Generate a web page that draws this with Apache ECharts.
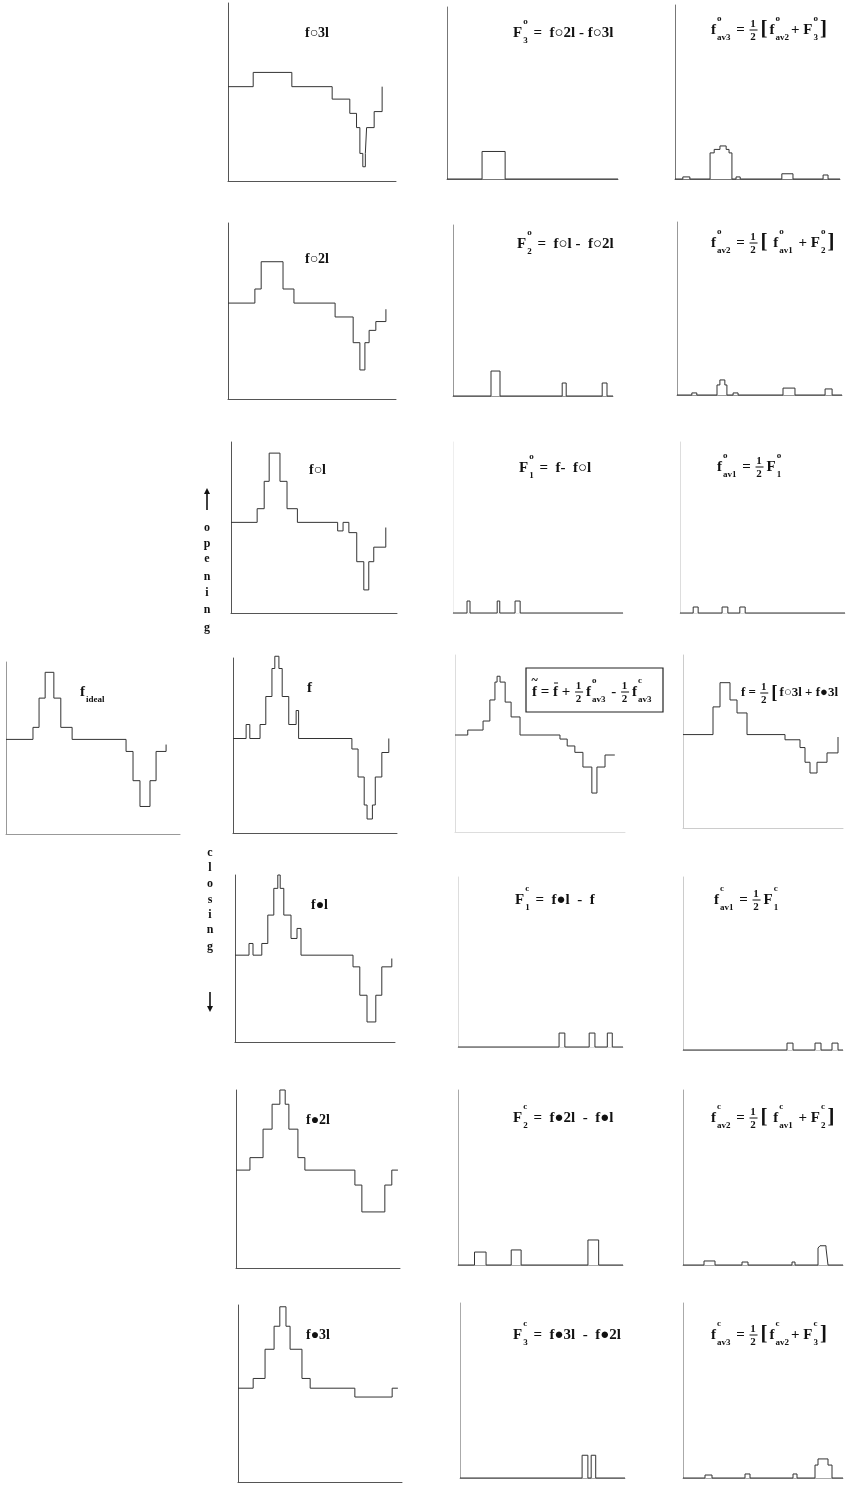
<!DOCTYPE html>
<html>
<head>
<meta charset="utf-8">
<script src="https://cdn.jsdelivr.net/npm/echarts@6.0.0/dist/echarts.min.js"></script>
<style>
html, body { margin: 0; padding: 0; background: #fff; }
#chart { width: 848px; height: 1486px; }
</style>
</head>
<body>
<div id="chart"></div>
<script>
// step signals: edges along x (0..40), level of each step (last one = end tip)
const idealEdges = [0, 6.2, 7.6, 9, 11, 12.6, 15.2, 27.6, 29.2, 30.8, 33.1, 34.5, 36.8];
const idealLevels = [55, 62, 79, 94, 79, 62, 55, 48, 31, 16, 31, 48, 52];

const open3Edges = [0, 6, 15.2, 24.8, 29, 30.6, 31.4, 32.1, 32.7, 33, 34.8, 36.7];
const open3Levels = [53, 61, 53, 46, 38, 30, 15.5, 8, 15.5, 30, 39, 53];
const open2Edges = [0, 6.4, 7.9, 13.1, 15.7, 25.5, 29.8, 31.4, 32.6, 33.6, 35.2, 37.6];
const open2Levels = [54.5, 62.5, 78, 62.5, 54.5, 46.6, 32, 16.5, 32, 39, 44, 51];
const open1Edges = [0, 6.3, 8, 9.2, 11.8, 13.5, 16, 25.7, 27, 28.4, 30.3, 32, 33.2, 34.4, 37.3];
const open1Levels = [53, 61, 77, 93.5, 77, 61, 53, 48, 53, 47, 30, 13.5, 30, 38.5, 50];
const fEdges = [0, 3.2, 4.1, 6.6, 8, 9.5, 10.2, 11.2, 12, 13.6, 15.4, 16, 29, 30.5, 32, 32.7, 34, 34.7, 36.3, 38];
const fLevels = [54, 62, 54, 62, 78, 94, 101, 94, 78, 62, 70, 54, 48, 32, 16, 8, 16, 32, 46, 54];
const close1Edges = [0, 3.5, 4.5, 6.7, 8.2, 9.7, 10.7, 11.3, 12.2, 14, 15.5, 16.5, 29.5, 31.2, 33, 35.2, 36.7, 39.2];
const close1Levels = [52, 59, 52, 59, 76, 92, 100, 92, 76, 62, 68, 52, 45, 28, 12, 28, 45, 50];
const close2Edges = [0, 3.4, 6.6, 8.8, 10.7, 12, 12.9, 15.1, 16.8, 29, 30.7, 36.3, 38, 39.5];
const close2Levels = [55, 62, 78, 92, 100, 92, 78, 62, 55, 46.6, 31.5, 46.6, 55, 55];
const close3Edges = [0, 3.7, 6.6, 8.8, 10.2, 11.7, 12.7, 15.6, 17.6, 28.5, 37.6, 39];
const close3Levels = [53, 58.5, 75, 88, 99, 88, 75, 58.5, 53, 48, 53, 53];

const resO3Edges = [0, 8.2, 13.6, 40];
const resO3Levels = [0, 16, 0, 0];
const resO2Edges = [0, 9.5, 11.75, 27.3, 28.3, 37.3, 38.5, 40];
const resO2Levels = [0, 14.6, 0, 7.6, 0, 7.6, 0, 0];
const resO1Edges = [0, 3.3, 4, 10.4, 11, 14.6, 15.8, 40];
const resO1Levels = [0, 7, 0, 7, 0, 7, 0, 0];
const recEdges = [0, 3, 6.6, 8.2, 9.4, 9.9, 10.6, 11.8, 13.2, 15.3, 24.7, 26.4, 28.2, 30.1, 32.2, 33.4, 35.3, 37.6];
const recLevels = [54.8, 57.6, 62.7, 74.6, 84.7, 88, 84.7, 73.4, 65, 54.8, 52.5, 48.6, 45, 36.7, 22, 36.7, 43.5, 43.5];
const resC1Edges = [0, 24.5, 25.9, 31.8, 33.2, 36.2, 37.4, 40];
const resC1Levels = [0, 8.2, 0, 8.2, 0, 8.2, 0, 0];
const resC2Edges = [0, 4, 6.8, 12.9, 15.3, 31.5, 34.1, 40];
const resC2Levels = [0, 7.4, 0, 8.6, 0, 14.3, 0, 0];
const resC3Edges = [0, 29.6, 31, 31.8, 32.9, 40];
const resC3Levels = [0, 13, 0, 13, 0, 0];

const avO3Edges = [0, 1.9, 3.6, 8.5, 9.5, 10.9, 12.4, 13.1, 13.8, 14.8, 15.8, 25.9, 28.6, 35.9, 37.1, 40];
const avO3Levels = [0, 1.2, 0, 15, 17, 19, 17, 15, 0, 1.2, 0, 3, 0, 2.3, 0, 0];
const avO2Edges = [0, 3.6, 4.8, 9.7, 10.4, 11.6, 12.1, 13.6, 14.8, 25.7, 28.6, 35.9, 37.6, 40];
const avO2Levels = [0, 1.2, 0, 5.8, 8.7, 5.8, 0, 1.2, 0, 4, 0, 3.5, 0, 0];
const avO1Edges = [0, 3.2, 4.4, 10.2, 11.6, 14.5, 15.8, 40];
const avO1Levels = [0, 3.5, 0, 3.5, 0, 3.5, 0, 0];
const meanEdges = [0, 7.5, 9.25, 11.75, 13.5, 16, 25.5, 29.25, 30.5, 31.75, 33.5, 36, 38.75];
const meanLevels = [54, 70, 84, 74, 66.5, 54, 51, 46.5, 38, 31.8, 38, 43.4, 52.6];
const avC1Edges = [0, 26, 27.5, 33, 34.5, 37.25, 38.75, 40];
const avC1Levels = [0, 4, 0, 4, 0, 4, 0, 0];
const avC2Edges = [0, 5.25, 8, 14.75, 16.25, 27.25, 28, 33.75, 34.25, 35.75, 36.25, 40];
const avC2Levels = [0, 2.3, 0, 1.7, 0, 1.7, 0, 9.7, 11, 9.7, 0, 0];
const avC3Edges = [0, 5.5, 7.25, 15.5, 16.75, 27.5, 28.5, 33, 33.75, 36.25, 37.25, 40];
const avC3Levels = [0, 1.7, 0, 2.3, 0, 2.3, 0, 7.4, 10.9, 7.4, 0, 0];

// panel boxes [left, top, width, height] and axis tone
const panels = [
  { box: [6, 662, 174, 172], e: idealEdges, v: idealLevels, ax: '#999' },
  { box: [228, 3, 168, 178], e: open3Edges, v: open3Levels, ax: '#555' },
  { box: [228, 223, 168, 176], e: open2Edges, v: open2Levels, ax: '#555' },
  { box: [231, 442, 166, 171], e: open1Edges, v: open1Levels, ax: '#555' },
  { box: [233, 658, 164, 175], e: fEdges, v: fLevels, ax: '#555' },
  { box: [235, 875, 160, 167], e: close1Edges, v: close1Levels, ax: '#555' },
  { box: [236, 1090, 164, 178], e: close2Edges, v: close2Levels, ax: '#555' },
  { box: [238, 1305, 164, 177], e: close3Edges, v: close3Levels, ax: '#555' },
  { box: [447, 7, 171, 172], e: resO3Edges, v: resO3Levels, ax: '#777' },
  { box: [453, 225, 160, 171], e: resO2Edges, v: resO2Levels, ax: '#999' },
  { box: [453, 442, 170, 171], e: resO1Edges, v: resO1Levels, ax: '#eee' },
  { box: [455, 655, 170, 177], e: recEdges, v: recLevels, ax: '#ddd' },
  { box: [458, 877, 165, 170], e: resC1Edges, v: resC1Levels, ax: '#ddd' },
  { box: [458, 1090, 165, 175], e: resC2Edges, v: resC2Levels, ax: '#aaa' },
  { box: [460, 1303, 165, 175], e: resC3Edges, v: resC3Levels, ax: '#aaa' },
  { box: [675, 5, 165, 174], e: avO3Edges, v: avO3Levels, ax: '#777' },
  { box: [677, 222, 165, 173], e: avO2Edges, v: avO2Levels, ax: '#999' },
  { box: [680, 442, 165, 171], e: avO1Edges, v: avO1Levels, ax: '#ddd' },
  { box: [683, 655, 160, 173], e: meanEdges, v: meanLevels, ax: '#ccc' },
  { box: [683, 877, 160, 173], e: avC1Edges, v: avC1Levels, ax: '#ccc' },
  { box: [683, 1090, 160, 175], e: avC2Edges, v: avC2Levels, ax: '#aaa' },
  { box: [683, 1303, 160, 175], e: avC3Edges, v: avC3Levels, ax: '#aaa' }
];

const SERIF = '"Liberation Serif", "DejaVu Serif", serif';
const SCRIPT = 9, FRAC = 11;
const mctx = document.createElement('canvas').getContext('2d');
function fnt(size) { return 'bold ' + size + 'px ' + SERIF; }
function tw(s, size) { mctx.font = fnt(size); return mctx.measureText(s).width; }
function txt(s, x, y, size, align) {
  return { type: 'text', x: x, y: y, silent: true,
    style: { text: s, font: fnt(size), fill: '#111', align: align || 'left', verticalAlign: 'middle' } };
}
function seg(x1, y1, x2, y2, w) {
  return { type: 'line', silent: true, shape: { x1: x1, y1: y1, x2: x2, y2: y2 }, style: { stroke: '#111', lineWidth: w || 1 } };
}
function arrow(x, yTail, yHead) {
  const d = yHead < yTail ? 1 : -1;
  elements.push(seg(x, yTail, x, yHead + d * 4, 1.6));
  elements.push({ type: 'polygon', silent: true,
    shape: { points: [[x, yHead], [x - 3, yHead + d * 6], [x + 3, yHead + d * 6]] }, style: { fill: '#111' } });
}

const elements = [];
function formula(x, y, tokens, size) {
  const main = size || 15;
  let prevX = x, prevW = 0;
  tokens.forEach(function (tk) {
    if (typeof tk === 'string') {
      elements.push(txt(tk, x, y, main));
      prevX = x; prevW = tw(tk, main); x += prevW;
    } else if (tk.acc) {
      if (tk.acc === '~') elements.push(txt('~', prevX + prevW / 2, y - 11, 12, 'center'));
      else elements.push(seg(prevX + 1, y - 9, prevX + prevW, y - 9));
    } else if (tk.frac) {
      elements.push(txt(tk.frac[0], x + 4.5, y - 6, FRAC, 'center'));
      elements.push(seg(x + 1, y, x + 9, y));
      elements.push(txt(tk.frac[1], x + 4.5, y + 7, FRAC, 'center'));
      x += 12;
    } else if (tk.br) {
      elements.push(txt(tk.br, x, y, main + 6));
      x += tw(tk.br, main + 6) + 2;
    } else {
      const a = tk.sup ? tw(tk.sup, SCRIPT) : 0, b = tk.sub ? tw(tk.sub, SCRIPT) : 0;
      if (tk.sup) elements.push(txt(tk.sup, x + 1, y - 11, SCRIPT));
      if (tk.sub) elements.push(txt(tk.sub, x + 1, y + 8, SCRIPT));
      x += Math.max(a, b) + 3;
    }
  });
}

// panel names in the middle column
elements.push(txt('f○3l', 305, 33, 14));
elements.push(txt('f○2l', 305, 259, 14));
elements.push(txt('f○l', 309, 470, 14));
elements.push(txt('f', 307, 688, 15));
elements.push(txt('f●l', 311, 905, 14));
elements.push(txt('f●2l', 306, 1120, 14));
elements.push(txt('f●3l', 306, 1335, 14));
formula(80, 692, ['f', { sub: 'ideal' }]);

// vertical words with arrows
const openY = [528, 544, 559, 577, 593, 610, 628];
'opening'.split('').forEach(function (c, i) { elements.push(txt(c, 207, openY[i], 12, 'center')); });
arrow(207, 510, 488);
const closeY = [853, 868, 884, 900, 915, 930, 947];
'closing'.split('').forEach(function (c, i) { elements.push(txt(c, 210, closeY[i], 12, 'center')); });
arrow(210, 992, 1012);

// formulas, residual column
formula(513, 33, ['F', { sup: 'o', sub: '3' }, ' =  f○2l - f○3l']);
formula(517, 244, ['F', { sup: 'o', sub: '2' }, ' =  f○l -  f○2l']);
formula(519, 468, ['F', { sup: 'o', sub: '1' }, ' =  f-  f○l']);
formula(515, 900, ['F', { sup: 'c', sub: '1' }, ' =  f●l  -  f']);
formula(513, 1118, ['F', { sup: 'c', sub: '2' }, ' =  f●2l  -  f●l']);
formula(513, 1335, ['F', { sup: 'c', sub: '3' }, ' =  f●3l  -  f●2l']);
formula(532, 692, ['f', { acc: '~' }, ' = ', 'f', { acc: 'bar' }, ' + ', { frac: ['1', '2'] }, 'f', { sup: 'o', sub: 'av3' },
  ' - ', { frac: ['1', '2'] }, 'f', { sup: 'c', sub: 'av3' }]);
elements.push({ type: 'rect', silent: true, shape: { x: 526, y: 668, width: 137, height: 44 },
  style: { fill: 'none', stroke: '#222', lineWidth: 1.2 } });

// formulas, averaging column
formula(711, 30, ['f', { sup: 'o', sub: 'av3' }, ' = ', { frac: ['1', '2'] }, { br: '[' }, 'f', { sup: 'o', sub: 'av2' },
  '+ F', { sup: 'o', sub: '3' }, { br: ']' }]);
formula(711, 243, ['f', { sup: 'o', sub: 'av2' }, ' = ', { frac: ['1', '2'] }, { br: '[' }, ' f', { sup: 'o', sub: 'av1' },
  ' + F', { sup: 'o', sub: '2' }, { br: ']' }]);
formula(717, 467, ['f', { sup: 'o', sub: 'av1' }, ' = ', { frac: ['1', '2'] }, 'F', { sup: 'o', sub: '1' }]);
formula(741, 693, ['f = ', { frac: ['1', '2'] }, { br: '[' }, 'f○3l + f●3l'], 13);
formula(714, 900, ['f', { sup: 'c', sub: 'av1' }, ' = ', { frac: ['1', '2'] }, 'F', { sup: 'c', sub: '1' }]);
formula(711, 1118, ['f', { sup: 'c', sub: 'av2' }, ' = ', { frac: ['1', '2'] }, { br: '[' }, ' f', { sup: 'c', sub: 'av1' },
  ' + F', { sup: 'c', sub: '2' }, { br: ']' }]);
formula(711, 1335, ['f', { sup: 'c', sub: 'av3' }, ' = ', { frac: ['1', '2'] }, { br: '[' }, 'f', { sup: 'c', sub: 'av2' },
  '+ F', { sup: 'c', sub: '3' }, { br: ']' }]);

const grids = [], xAxes = [], yAxes = [], series = [];
panels.forEach(function (p, i) {
  grids.push({ left: p.box[0], top: p.box[1], width: p.box[2], height: p.box[3] });
  const axisBase = {
    gridIndex: i, type: 'value',
    axisLine: { show: true, onZero: false, lineStyle: { color: p.ax, width: 1 } },
    axisTick: { show: false }, axisLabel: { show: false }, splitLine: { show: false }
  };
  xAxes.push(Object.assign({ min: 0, max: 40 }, axisBase));
  yAxes.push(Object.assign({ min: 0, max: 100 }, axisBase));
  series.push({
    type: 'line', xAxisIndex: i, yAxisIndex: i, step: 'end', symbol: 'none', clip: false,
    lineStyle: { color: '#333', width: 1 },
    data: p.e.map(function (x, k) { return [x, p.v[k]]; })
  });
});

const chart = echarts.init(document.getElementById('chart'));
chart.setOption({
  animation: false,
  backgroundColor: '#fff',
  grid: grids,
  xAxis: xAxes,
  yAxis: yAxes,
  series: series,
  graphic: { elements: elements }
});
</script>
</body>
</html>
